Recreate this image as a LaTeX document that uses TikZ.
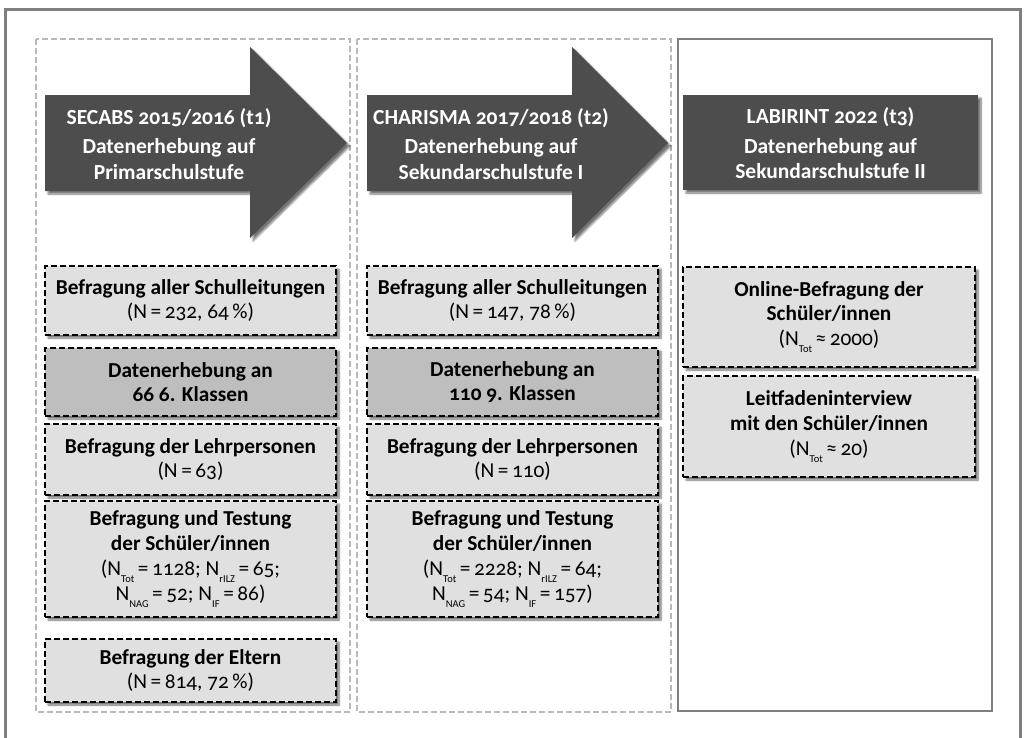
\documentclass[tikz,border=0pt]{standalone}
\usepackage{fontspec}
\setmainfont{Carlito}[Numbers=OldStyle]
\usetikzlibrary{shadows.blur}

\definecolor{darkbox}{HTML}{4D4D4D}
\definecolor{lightbox}{HTML}{E0E0E0}
\definecolor{midbox}{HTML}{BEBEBE}
\definecolor{framegray}{HTML}{7F7F7F}
\newcommand\Nsb[1]{N\raisebox{-0.7ex}{\fontsize{10.5}{10.5}\selectfont #1}}

\begin{document}
\begin{tikzpicture}[x=1pt,y=-1pt,
  dropsh/.style={blur shadow={shadow xshift=3pt,shadow yshift=-3pt,shadow blur steps=6,shadow opacity=55}},
  ebox/.style={draw=black,fill=lightbox,line width=1.6pt,dash pattern=on 6pt off 3pt,dropsh,
    align=center,inner sep=0pt,minimum width=291pt,font=\fontsize{21.3}{24.8}\selectfont},
  kbox/.style={ebox,fill=midbox},
  colframe/.style={draw=gray!55,line width=1.4pt,dash pattern=on 6pt off 3pt},
  arrowbody/.style={fill=darkbox,dropsh},
  headtext/.style={text=white,align=center,font=\bfseries\fontsize{21.5}{25.5}\selectfont}]
  \useasboundingbox (0,0) rectangle (1025,737);
  % frame and columns
  \draw[framegray,line width=3pt] (5.5,745) -- (5.5,9) -- (1020.5,9) -- (1020.5,745);
  \draw[colframe] (36,39) rectangle (350,712);
  \draw[colframe] (357,39) rectangle (671,712);
  \draw[framegray,line width=2pt] (678,39) rectangle (992,711);

  % time points
  \fill[arrowbody] (45,95) -- (250,95) -- (250,47) -- (347,143) -- (250,238) -- (250,191) -- (45,191) -- cycle;
  \node[headtext] (t1) at (169,144) {SECABS 2015/2016 (t1)\\[4pt] Datenerhebung auf\\ Primarschulstufe};
  \fill[arrowbody] (367,95) -- (572,95) -- (572,47) -- (668,143) -- (572,238) -- (572,191) -- (367,191) -- cycle;
  \node[headtext] (t2) at (491,144) {CHARISMA 2017/2018 (t2)\\[4pt] Datenerhebung auf\\ Sekundarschulstufe I};
  \node[arrowbody,minimum width=295pt,minimum height=95pt] (t3box) at (830.5,142.5) {};
  \node[headtext] (t3) at ([yshift=-1pt]t3box) {LABIRINT 2022 (t3)\\[4pt] Datenerhebung auf\\ Sekundarschulstufe II};

  % SECABS
  \node[ebox,minimum height=69pt] (sl1) at (190.5,300.5) {\textbf{Befragung aller Schulleitungen}\\ (N\,=\,232, 64\,\%)};
  \node[kbox,minimum height=68pt] (kl1) at (190.5,382) {\textbf{Datenerhebung an}\\ \textbf{66 6. Klassen}};
  \node[ebox,minimum height=71pt] (lp1) at (190.5,459.5) {\textbf{Befragung der Lehrpersonen}\\ (N\,=\,63)};
  \node[ebox,minimum height=116pt] (sus1) at (190.5,559) {\textbf{Befragung und Testung}\\ \textbf{der Schüler/innen}\\
    (\Nsb{Tot}\,=\,1128; \Nsb{rILZ}\,=\,65;\\ \Nsb{NAG}\,=\,52; \Nsb{IF}\,=\,86)};
  \node[ebox,minimum height=63pt] (el1) at (190.5,670.5) {\textbf{Befragung der Eltern}\\ (N\,=\,814, 72\,\%)};

  % CHARISMA
  \node[ebox,minimum height=69pt] (sl2) at (512.5,300.5) {\textbf{Befragung aller Schulleitungen}\\ (N\,=\,147, 78\,\%)};
  \node[kbox,minimum height=68pt] (kl2) at (512.5,382) {\textbf{Datenerhebung an}\\ \textbf{110 9. Klassen}};
  \node[ebox,minimum height=71pt] (lp2) at (512.5,459.5) {\textbf{Befragung der Lehrpersonen}\\ (N\,=\,110)};
  \node[ebox,minimum height=116pt] (sus2) at (512.5,559) {\textbf{Befragung und Testung}\\ \textbf{der Schüler/innen}\\
    (\Nsb{Tot}\,=\,2228; \Nsb{rILZ}\,=\,64;\\ \Nsb{NAG}\,=\,54; \Nsb{IF}\,=\,157)};

  % LABIRINT
  \node[ebox,minimum height=100pt,minimum width=292pt] (on3) at (829,317) {\textbf{Online-Befragung der}\\ \textbf{Schüler/innen}\\ (\Nsb{Tot}\,≈\,2000)};
  \node[ebox,minimum height=101pt,minimum width=292pt] (li3) at (829,426.5) {\textbf{Leitfadeninterview}\\ \textbf{mit den Schüler/innen}\\ (\Nsb{Tot}\,≈\,20)};
\end{tikzpicture}
\end{document}
